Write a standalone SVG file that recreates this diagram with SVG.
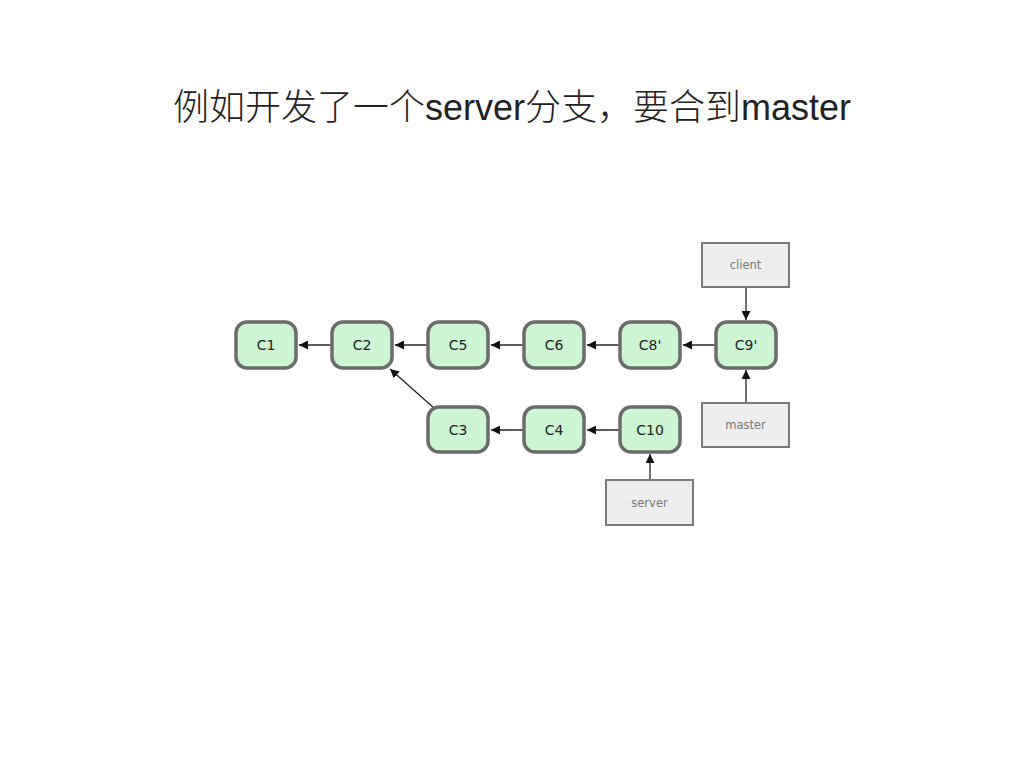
<svg xmlns="http://www.w3.org/2000/svg" width="1024" height="768" viewBox="0 0 1024 768">
<style>
.title{font-family:"Liberation Sans","Noto Sans CJK SC",sans-serif;font-size:36px;font-weight:300;fill:#222}
.commit rect{fill:#ccf5d4;stroke:#6b6b6b;stroke-width:3.5}
.commit text{font-family:"DejaVu Sans","Liberation Sans",sans-serif;font-size:14px;fill:#222;text-anchor:middle}
.branch rect{fill:#eeeeee;stroke:#7a7a7a;stroke-width:2}
.branch text{font-family:"DejaVu Sans","Liberation Sans",sans-serif;font-size:11.5px;fill:#777;text-anchor:middle}
.conn line{stroke:#222;stroke-width:1.3;marker-end:url(#ah)}
</style>
<defs>
<marker id="ah" viewBox="0 0 10 10" refX="10" refY="5" markerWidth="9" markerHeight="9" markerUnits="userSpaceOnUse" orient="auto">
<path d="M0,0 L10,5 L0,10 z" fill="#111"/>
</marker>
</defs>
<rect width="1024" height="768" fill="#fff"/>
<text class="title" x="512" y="120" text-anchor="middle">例如开发了一个server分支，要合到master</text>
<g class="conn">
<line x1="332" y1="345" x2="299" y2="345"/>
<line x1="428" y1="345" x2="395" y2="345"/>
<line x1="524" y1="345" x2="491" y2="345"/>
<line x1="620" y1="345" x2="587" y2="345"/>
<line x1="716" y1="345" x2="683" y2="345"/>
<line x1="524" y1="430" x2="491" y2="430"/>
<line x1="620" y1="430" x2="587" y2="430"/>
<line x1="434" y1="408" x2="390" y2="369"/>
<line x1="746" y1="288" x2="746" y2="320"/>
<line x1="746" y1="403" x2="746" y2="370"/>
<line x1="650" y1="479" x2="650" y2="454"/>
</g>
<g id="C1" class="commit"><rect x="236" y="322" width="60" height="46" rx="11"/><text x="266" y="350">C1</text></g>
<g id="C2" class="commit"><rect x="332" y="322" width="60" height="46" rx="11"/><text x="362" y="350">C2</text></g>
<g id="C5" class="commit"><rect x="428" y="322" width="60" height="46" rx="11"/><text x="458" y="350">C5</text></g>
<g id="C6" class="commit"><rect x="524" y="322" width="60" height="46" rx="11"/><text x="554" y="350">C6</text></g>
<g id="C8p" class="commit"><rect x="620" y="322" width="60" height="46" rx="11"/><text x="650" y="350">C8'</text></g>
<g id="C9p" class="commit"><rect x="716" y="322" width="60" height="46" rx="11"/><text x="746" y="350">C9'</text></g>
<g id="C3" class="commit"><rect x="428" y="407" width="60" height="45" rx="11"/><text x="458" y="435">C3</text></g>
<g id="C4" class="commit"><rect x="524" y="407" width="60" height="45" rx="11"/><text x="554" y="435">C4</text></g>
<g id="C10" class="commit"><rect x="620" y="407" width="60" height="45" rx="11"/><text x="650" y="435">C10</text></g>
<g id="client" class="branch"><rect x="702" y="243" width="87" height="44"/><text x="745.5" y="269">client</text></g>
<g id="master" class="branch"><rect x="702" y="403" width="87" height="44"/><text x="745.5" y="429">master</text></g>
<g id="server" class="branch"><rect x="606" y="480" width="87" height="45"/><text x="649.5" y="507">server</text></g>
</svg>
